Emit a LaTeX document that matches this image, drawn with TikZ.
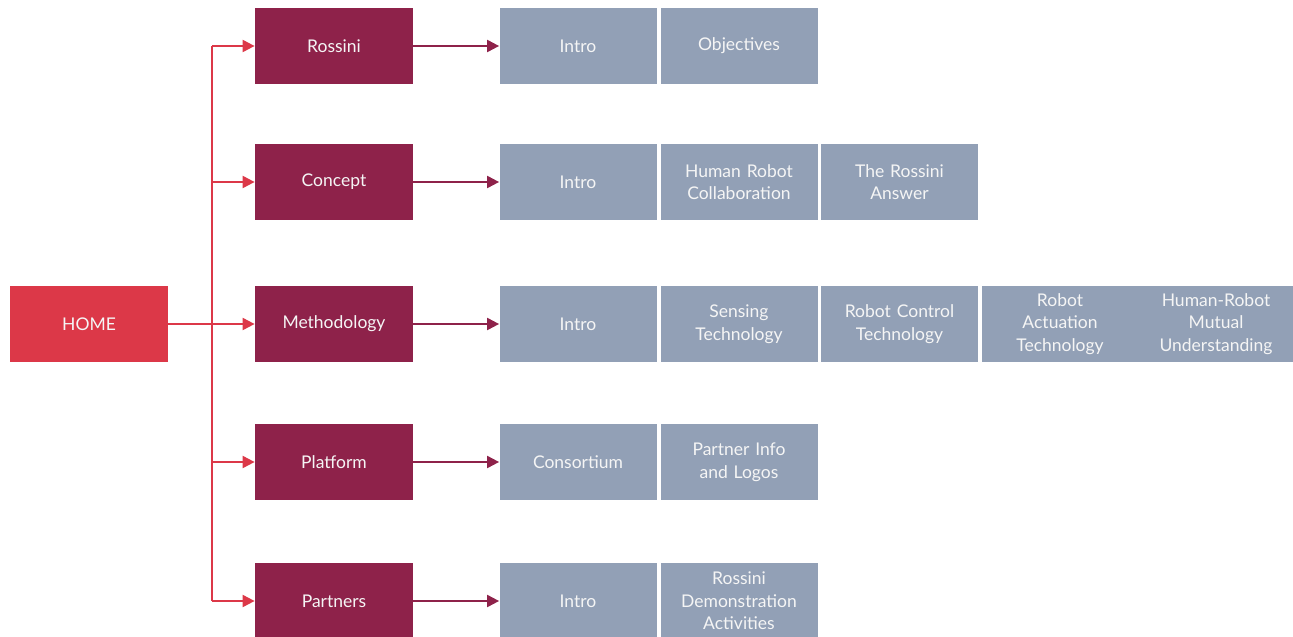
\documentclass[tikz,border=0pt]{standalone}
\usepackage{fontspec}
\setmainfont{Lato}
\usetikzlibrary{arrows.meta}

\definecolor{homered}{RGB}{220,56,72}
\definecolor{maroon}{RGB}{142,34,74}
\definecolor{slate}{RGB}{146,160,182}

\tikzset{every picture/.style={line width=0.75pt}}
\tikzset{
  box/.style={inner sep=0pt, minimum height=76pt, text width=150pt, align=center,
    text=white!96!black, font=\fontsize{17.5}{22.5}\selectfont},
  homebox/.style={box, fill=homered, minimum width=158pt},
  secbox/.style={box, fill=maroon, minimum width=158pt},
  pagebox/.style={box, fill=slate, minimum width=157pt},
  redarrow/.style={draw=homered, line width=2pt, -{Triangle[length=12pt,width=12pt]}},
  redline/.style={draw=homered, line width=2pt},
  maroonarrow/.style={draw=maroon, line width=2pt, -{Triangle[length=12pt,width=12pt]}}
}

\begin{document}
\begin{tikzpicture}[x=1pt,y=1pt,yscale=-1,xscale=1]
        \useasboundingbox (0,0) rectangle (1293,637);

        % Home
        \node [homebox] (home) at (89,324) {HOME};

        % Sections
        \node [secbox] (rossini) at (334,46) {Rossini};
        \node [secbox] (concept) at (334,182) {Concept};
        \node [secbox] (method) at (334,324) {Methodology};
        \node [secbox] (platform) at (334,462) {Platform};
        \node [secbox] (partners) at (334,601) {Partners};

        % Pages: Rossini
        \node [pagebox] (rossini-intro) at (578,46) {Intro};
        \node [pagebox] (rossini-obj) at (739,46) {Objectives};
        % Pages: Concept
        \node [pagebox] (concept-intro) at (578,182) {Intro};
        \node [pagebox] (concept-hrc) at (739,182) {Human Robot\\Collaboration};
        \node [pagebox] (concept-answer) at (899.5,182) {The Rossini\\Answer};
        % Pages: Methodology
        \node [pagebox] (method-intro) at (578,324) {Intro};
        \node [pagebox] (method-sense) at (739,324) {Sensing\\Technology};
        \node [pagebox] (method-control) at (899.5,324) {Robot Control\\Technology};
        \node [pagebox] (method-act) at (1060,324) {Robot\\Actuation\\Technology};
        \node [pagebox] (method-mutual) at (1216,324) {Human-Robot\\Mutual\\Understanding};
        % Pages: Platform
        \node [pagebox] (platform-cons) at (578,462) {Consortium};
        \node [pagebox] (platform-info) at (739,462) {Partner Info\\and Logos};
        % Pages: Partners
        \node [pagebox] (partners-intro) at (578,601) {Intro};
        \node [pagebox] (partners-demo) at (739,601) {Rossini\\Demonstration\\Activities};

        % Trunk from home
        \coordinate (trunk) at (212,0);
        \draw [redline] (rossini.west -| trunk) -- (partners.west -| trunk);
        \draw [redarrow] (home) -- (method);
        \draw [redarrow] (rossini.west -| trunk) -- (rossini);
        \draw [redarrow] (concept.west -| trunk) -- (concept);
        \draw [redarrow] (platform.west -| trunk) -- (platform);
        \draw [redarrow] (partners.west -| trunk) -- (partners);

        % Section to pages
        \draw [maroonarrow] (rossini) -- (rossini-intro);
        \draw [maroonarrow] (concept) -- (concept-intro);
        \draw [maroonarrow] (method) -- (method-intro);
        \draw [maroonarrow] (platform) -- (platform-cons);
        \draw [maroonarrow] (partners) -- (partners-intro);

\end{tikzpicture}
\end{document}
